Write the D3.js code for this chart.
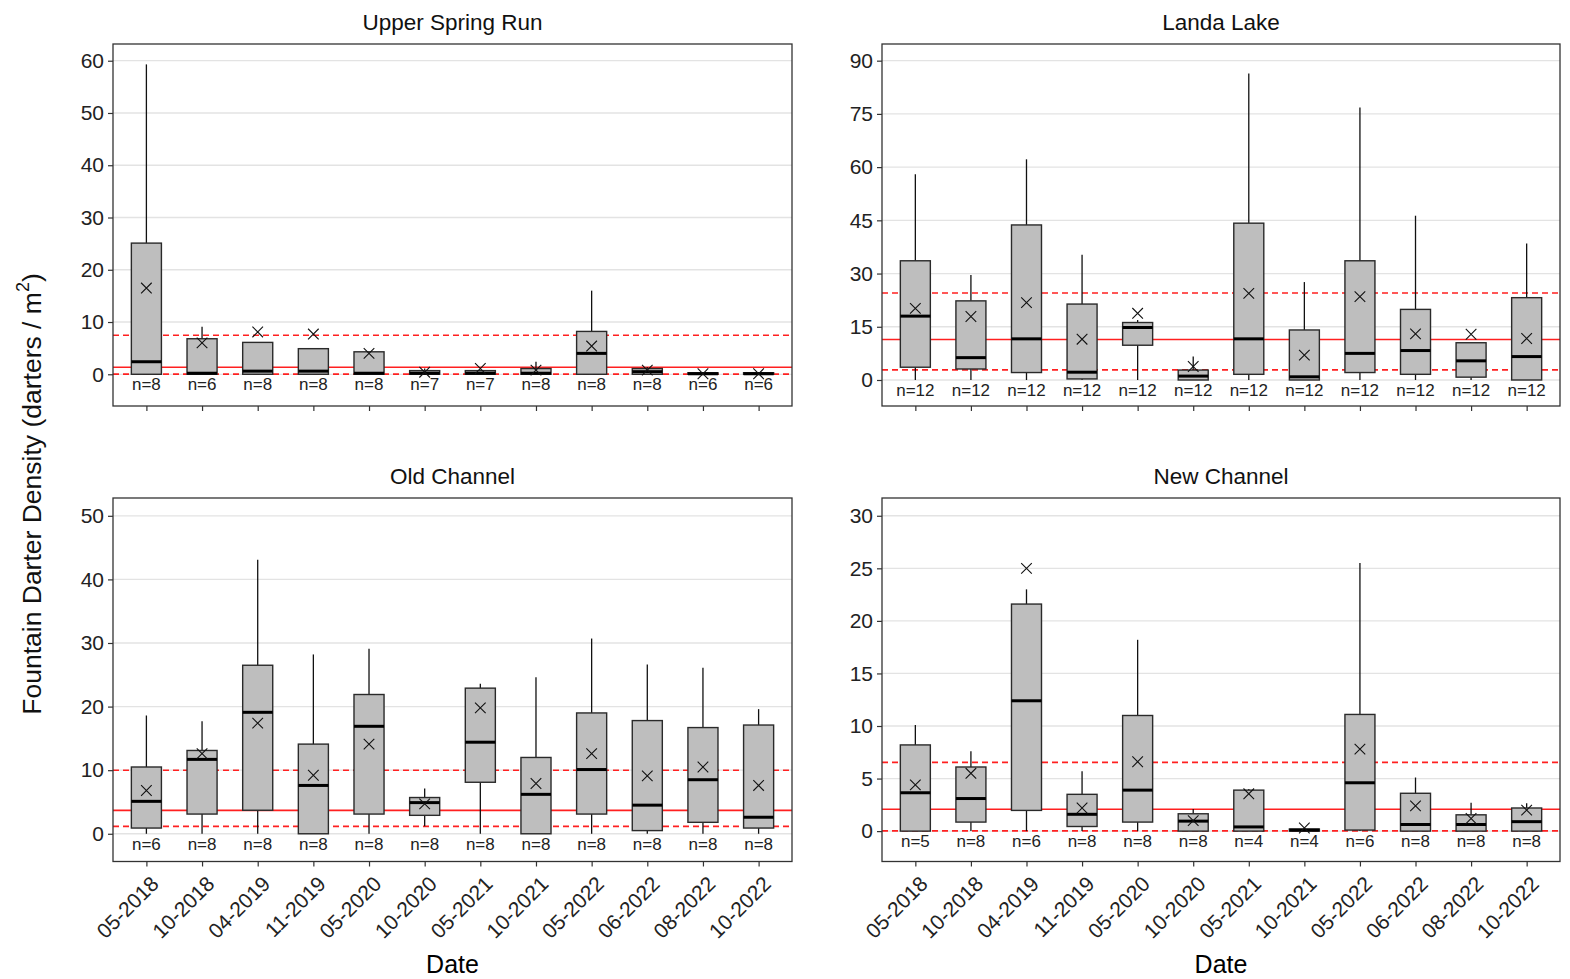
<!DOCTYPE html>
<html><head><meta charset="utf-8">
<script src="https://cdn.jsdelivr.net/npm/d3@7"></script>
<style>body{margin:0;background:#fff}svg{display:block}text{font-family:Arial,"Liberation Sans",sans-serif}</style>
</head><body><div id="chart"></div>
<script>
const dates = ["05-2018","10-2018","04-2019","11-2019","05-2020","10-2020","05-2021","10-2021","05-2022","06-2022","08-2022","10-2022"];
const siteNames = ["Upper Spring Run","Landa Lake","Old Channel","New Channel"];
const yTicks = [[0,10,20,30,40,50,60],[0,15,30,45,60,75,90],[0,10,20,30,40,50],[0,5,10,15,20,25,30]];
const yDomains = [[-6.07,63.2],[-7.33,94.7],[-4.36,52.8],[-2.89,31.69]];

// Upper Spring Run
const usrLo   = [0,0,0,0,0,0,0,0,0,0,0,0];
const usrQ1   = [0,0,0,0,0,0,0,0,0,0,0,0];
const usrMed  = [2.4,0.2,0.6,0.6,0.2,0.2,0.2,0.2,4.0,0.5,0.1,0.1];
const usrQ3   = [25.1,6.8,6.1,4.9,4.3,0.7,0.7,1.1,8.2,1.1,0.3,0.3];
const usrHi   = [59.3,9.1,6.1,4.9,4.3,1.1,0.7,2.4,16.0,1.4,0.3,0.3];
const usrMean = [16.5,6.0,8.1,7.7,4.0,0.4,1.1,0.8,5.4,0.8,0.1,0.1];
const usrN    = [8,6,8,8,8,7,7,8,8,8,6,6];
// Landa Lake
const llLo   = [0,0,0,0,0,0,0,0,0,0,0,0];
const llQ1   = [3.6,3.1,2.1,0.3,9.8,0,1.6,0,2.1,1.6,0.8,0];
const llMed  = [18.0,6.3,11.6,2.2,14.8,1.1,11.6,0.9,7.5,8.3,5.4,6.6];
const llQ3   = [33.6,22.3,43.7,21.4,16.2,2.8,44.2,14.1,33.6,19.9,10.5,23.2];
const llHi   = [58.0,29.6,62.2,35.3,16.9,6.6,86.4,27.6,76.8,46.3,10.5,38.5];
const llMean = [20.2,17.9,21.8,11.5,18.8,3.8,24.4,7.0,23.5,13.0,12.9,11.7];
const llN    = [12,12,12,12,12,12,12,12,12,12,12,12];
// Old Channel
const ocLo   = [0,0,0,0,0,1.2,0,0,0,0,0,0];
const ocQ1   = [0.9,3.1,3.7,0,3.1,2.9,8.1,0,3.1,0.5,1.8,0.9];
const ocMed  = [5.1,11.7,19.1,7.6,16.9,4.9,14.4,6.2,10.1,4.5,8.5,2.6];
const ocQ3   = [10.5,13.1,26.5,14.1,21.9,5.7,22.9,12.0,19.0,17.8,16.7,17.1];
const ocHi   = [18.6,17.7,43.1,28.2,29.1,7.1,23.6,24.6,30.7,26.6,26.1,19.6];
const ocMean = [6.8,12.6,17.4,9.2,14.1,4.7,19.8,7.9,12.6,9.1,10.5,7.6];
const ocN    = [6,8,8,8,8,8,8,8,8,8,8,8];
// New Channel
const ncLo   = [0,0,0,0,0,0,0,0,0,0,0,0];
const ncQ1   = [0,0.86,1.97,0.44,0.86,0,0,0,0.1,0,0,0];
const ncMed  = [3.65,3.1,12.4,1.6,3.9,0.95,0.4,0.1,4.6,0.63,0.63,0.9];
const ncQ3   = [8.2,6.1,21.6,3.5,11.0,1.65,3.9,0.2,11.1,3.6,1.55,2.2];
const ncHi   = [10.1,7.6,23.0,5.7,18.2,2.1,4.0,0.2,25.5,5.1,2.7,2.65];
const ncMean = [4.4,5.5,25.0,2.2,6.6,1.0,3.55,0.3,7.8,2.4,1.2,2.0];
const ncN    = [5,8,6,8,8,8,4,4,6,8,8,8];

// reference lines: [solid, dashed upper, dashed lower]
const refSolid  = [1.35, 11.4, 3.68, 2.08];
const refDashHi = [7.48, 24.5, 10.0, 6.54];
const refDashLo = [0.02, 2.85, 1.16, 0.02];

const stats = [
  [usrLo,usrQ1,usrMed,usrQ3,usrHi,usrMean,usrN],
  [llLo,llQ1,llMed,llQ3,llHi,llMean,llN],
  [ocLo,ocQ1,ocMed,ocQ3,ocHi,ocMean,ocN],
  [ncLo,ncQ1,ncMed,ncQ3,ncHi,ncMean,ncN]
];

const W = 1570, H = 979;
const svg = d3.select("#chart").append("svg").attr("width", W).attr("height", H);
const panels = [
  {l:113, r:792, t:44, b:406},
  {l:882, r:1560, t:44, b:406},
  {l:113, r:792, t:498, b:861.5},
  {l:882, r:1560, t:498, b:861.5}
];

panels.forEach((p, i) => {
  const g = svg.append("g");
  const x = d3.scalePoint().domain(dates).range([p.l, p.r]).padding(0.6);
  const y = d3.scaleLinear().domain(yDomains[i]).range([p.b, p.t]);
  const step = x.step();
  const bw = step * 0.54;

  // gridlines
  g.selectAll(".grid").data(yTicks[i]).enter().append("line")
    .attr("x1", p.l).attr("x2", p.r).attr("y1", d => y(d)).attr("y2", d => y(d))
    .attr("stroke", "#e3e3e3").attr("stroke-width", 1.3);

  // reference lines
  g.append("line").attr("x1", p.l).attr("x2", p.r).attr("y1", y(refSolid[i])).attr("y2", y(refSolid[i]))
    .attr("stroke", "#ff2020").attr("stroke-width", 1.6);
  [refDashHi[i], refDashLo[i]].forEach(v => {
    g.append("line").attr("x1", p.l).attr("x2", p.r).attr("y1", y(v)).attr("y2", y(v))
      .attr("stroke", "#ff2020").attr("stroke-width", 1.6).attr("stroke-dasharray", "6,4");
  });

  const [lo, q1, med, q3, hi, mean, n] = stats[i];
  const rows = dates.map((d, k) => ({d, lo: lo[k], q1: q1[k], med: med[k], q3: q3[k], hi: hi[k], mean: mean[k], n: n[k]}));

  const bx = g.selectAll(".box").data(rows).enter().append("g");
  bx.append("line").attr("x1", d => x(d.d)).attr("x2", d => x(d.d))
    .attr("y1", d => y(d.q3)).attr("y2", d => y(d.hi)).attr("stroke", "#111").attr("stroke-width", 1.3);
  bx.append("line").attr("x1", d => x(d.d)).attr("x2", d => x(d.d))
    .attr("y1", d => y(d.q1)).attr("y2", d => y(d.lo)).attr("stroke", "#111").attr("stroke-width", 1.3);
  bx.append("rect").attr("x", d => x(d.d) - bw/2).attr("width", bw)
    .attr("y", d => y(d.q3)).attr("height", d => Math.max(y(d.q1) - y(d.q3), 0.5))
    .attr("fill", "#bebebe").attr("stroke", "#2a2a2a").attr("stroke-width", 1.4);
  bx.append("line").attr("x1", d => x(d.d) - bw/2).attr("x2", d => x(d.d) + bw/2)
    .attr("y1", d => y(d.med)).attr("y2", d => y(d.med)).attr("stroke", "#000").attr("stroke-width", 3);
  const ms = 5.3;
  bx.append("path").attr("d", d => {
      const cx = x(d.d), cy = y(d.mean);
      return `M${cx-ms},${cy-ms}L${cx+ms},${cy+ms}M${cx-ms},${cy+ms}L${cx+ms},${cy-ms}`;
    }).attr("stroke", "#111").attr("stroke-width", 1.1).attr("fill", "none");
  bx.append("text").attr("x", d => x(d.d)).attr("y", y(0) + 16)
    .attr("text-anchor", "middle").attr("font-size", 17).attr("fill", "#222")
    .text(d => "n=" + d.n);

  // panel border
  g.append("rect").attr("x", p.l).attr("y", p.t).attr("width", p.r - p.l).attr("height", p.b - p.t)
    .attr("fill", "none").attr("stroke", "#333").attr("stroke-width", 1.3);

  // y axis
  const ya = g.append("g").attr("transform", `translate(${p.l},0)`)
    .call(d3.axisLeft(y).tickValues(yTicks[i]).tickSize(5).tickPadding(4));
  ya.select(".domain").remove();
  ya.selectAll("line").attr("stroke", "#333").attr("stroke-width", 1.2);
  ya.selectAll("text").attr("font-size", 21).attr("fill", "#222").attr("font-family", "Arial, 'Liberation Sans', sans-serif");

  // x axis
  const xa = g.append("g").attr("transform", `translate(0,${p.b})`)
    .call(d3.axisBottom(x).tickSize(5).tickFormat(""));
  xa.select(".domain").remove();
  xa.selectAll("line").attr("stroke", "#333").attr("stroke-width", 1.2);

  if (i >= 2) {
    g.selectAll(".xl").data(dates).enter().append("text")
      .attr("transform", d => `translate(${x(d) + 3},${p.b + 13}) rotate(-45)`)
      .attr("text-anchor", "end").attr("dy", "0.72em")
      .attr("font-size", 21).attr("fill", "#222").text(d => d);
    g.append("text").attr("x", (p.l + p.r) / 2).attr("y", 973).attr("text-anchor", "middle")
      .attr("font-size", 25).attr("fill", "#000").text("Date");
  }

  // title
  g.append("text").attr("x", (p.l + p.r) / 2).attr("y", p.t - 14).attr("text-anchor", "middle")
    .attr("font-size", 22.5).attr("fill", "#111").text(siteNames[i]);
});

// y-axis title
const yt = svg.append("text").attr("transform", "translate(41,494) rotate(-90)")
  .attr("text-anchor", "middle").attr("font-size", 26.5).attr("fill", "#111");
yt.append("tspan").text("Fountain Darter Density (darters / m");
yt.append("tspan").attr("font-size", 18).attr("dy", -12).text("2");
yt.append("tspan").attr("dy", 12).text(")");
</script></body></html>
